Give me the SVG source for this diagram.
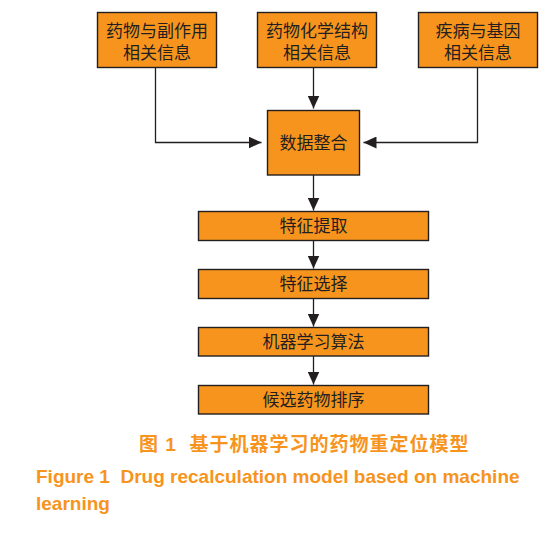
<svg xmlns="http://www.w3.org/2000/svg" width="556" height="537" viewBox="0 0 556 537">
<style>
.box{fill:#F7941D;stroke:#231F20;stroke-width:1.4}
.t{font-family:"Liberation Sans","Noto Sans CJK SC",sans-serif;font-size:17px;fill:#231F20;text-anchor:middle}
.c{stroke:#231F20;stroke-width:1.3;fill:none}
.cap{font-family:"Liberation Sans","Noto Sans CJK SC",sans-serif;font-weight:bold;fill:#F7941D}
</style>
<defs>
<marker id="ah" markerWidth="14" markerHeight="12" refX="13" refY="6" orient="auto" markerUnits="userSpaceOnUse">
<path d="M0,0 L13,6 L0,12 Z" fill="#231F20"/>
</marker>
</defs>
<rect width="556" height="537" fill="#fff"/>
<g id="connectors">
<polyline class="c" points="155.5,67.5 155.5,142.5 261.5,142.5" marker-end="url(#ah)"/>
<line class="c" x1="313.5" y1="67.5" x2="313.5" y2="108.5" marker-end="url(#ah)"/>
<polyline class="c" points="477.5,67.5 477.5,142.5 363.5,142.5" marker-end="url(#ah)"/>
<line class="c" x1="313.5" y1="175" x2="313.5" y2="210.5" marker-end="url(#ah)"/>
<line class="c" x1="313.5" y1="240.5" x2="313.5" y2="268.5" marker-end="url(#ah)"/>
<line class="c" x1="313.5" y1="298.5" x2="313.5" y2="326.5" marker-end="url(#ah)"/>
<line class="c" x1="313.5" y1="356" x2="313.5" y2="384.5" marker-end="url(#ah)"/>
</g>
<g id="n1"><rect class="box" x="97.5" y="12.5" width="119" height="55"/><text class="t" x="157" y="37">药物与副作用</text><text class="t" x="157" y="59">相关信息</text></g>
<g id="n2"><rect class="box" x="257.5" y="12.5" width="119" height="55"/><text class="t" x="317" y="37">药物化学结构</text><text class="t" x="317" y="59">相关信息</text></g>
<g id="n3"><rect class="box" x="418.5" y="12.5" width="119" height="55"/><text class="t" x="478" y="37">疾病与基因</text><text class="t" x="478" y="59">相关信息</text></g>
<g id="n4"><rect class="box" x="267.5" y="110.5" width="92" height="64.5"/><text class="t" x="313.5" y="149">数据整合</text></g>
<g id="n5"><rect class="box" x="198.5" y="211.5" width="230" height="29"/><text class="t" x="313.5" y="232">特征提取</text></g>
<g id="n6"><rect class="box" x="198.5" y="269.5" width="230" height="29"/><text class="t" x="313.5" y="290">特征选择</text></g>
<g id="n7"><rect class="box" x="198.5" y="327.5" width="230" height="28.5"/><text class="t" x="313.5" y="348">机器学习算法</text></g>
<g id="n8"><rect class="box" x="198.5" y="385.5" width="230" height="28.5"/><text class="t" x="313.5" y="406">候选药物排序</text></g>
<text class="cap" x="139" y="451" font-size="19" letter-spacing="1" xml:space="preserve">图 1  基于机器学习的药物重定位模型</text>
<text class="cap" x="36" y="483" font-size="19" xml:space="preserve">Figure 1  Drug recalculation model based on machine</text>
<text class="cap" x="36" y="510" font-size="19">learning</text>
</svg>
